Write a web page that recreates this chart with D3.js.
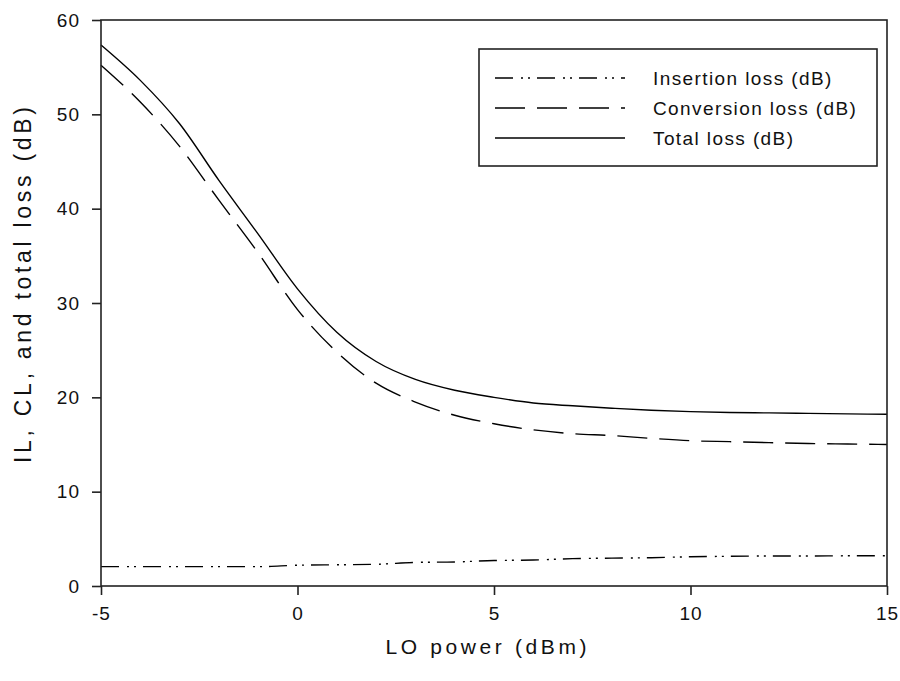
<!DOCTYPE html>
<html>
<head>
<meta charset="utf-8">
<script src="https://cdn.jsdelivr.net/npm/d3@7"></script>
<style>
  body { margin: 0; background: #fff; }
  text { font-family: "Liberation Sans", Arial, sans-serif; fill: #111; }
</style>
</head>
<body>
<svg id="chart" width="900" height="681"></svg>
<script>
// LO power sweep (dBm)
var loPower = [-5, -4, -3, -2, -1, 0, 1, 2, 3, 4, 5, 6, 7, 8, 9, 10, 11, 12, 13, 14, 15]
var insertionLoss = [2.05, 2.05, 2.05, 2.05, 2.05, 2.2, 2.25, 2.3, 2.5, 2.55, 2.7, 2.75, 2.9, 2.95, 3.0, 3.1, 3.15, 3.18, 3.18, 3.2, 3.2]
var conversionLoss = [55.2, 51.3, 46.6, 40.9, 35.3, 29.3, 24.8, 21.5, 19.5, 18.1, 17.2, 16.55, 16.15, 15.95, 15.65, 15.4, 15.3, 15.2, 15.1, 15.05, 15.0]
var totalLoss = [57.35, 53.6, 49.0, 43.0, 37.3, 31.5, 26.9, 23.8, 21.9, 20.75, 20.0, 19.4, 19.1, 18.85, 18.63, 18.48, 18.39, 18.35, 18.3, 18.25, 18.2]
var xTicks = [-5, 0, 5, 10, 15]
var yTicks = [0, 10, 20, 30, 40, 50, 60]
var seriesNames = ['Insertion loss (dB)', 'Conversion loss (dB)', 'Total loss (dB)']

var margin = { left: 101, top: 20, right: 13, bottom: 95 }
var width = 900, height = 681

var svg = d3.select('#chart')

var x = d3.scaleLinear().domain([-5, 15]).range([margin.left, width - margin.right])
var y = d3.scaleLinear().domain([0, 60]).range([height - margin.bottom, margin.top])

var dashes = ['18,8,2,5,2,7', '30,12', null]
var series = [insertionLoss, conversionLoss, totalLoss]

var line = d3.line()
  .x(function(d, i) { return x(loPower[i]) })
  .y(function(d) { return y(d) })
  .curve(d3.curveMonotoneX)

svg.selectAll('path.series')
  .data(series)
  .enter()
  .append('path')
  .attr('class', 'series')
  .attr('d', line)
  .attr('fill', 'none')
  .attr('stroke', '#000')
  .attr('stroke-width', 1.4)
  .attr('stroke-dasharray', function(d, i) { return dashes[i] })

// frame
svg.append('rect')
  .attr('x', x(-5))
  .attr('y', y(60))
  .attr('width', x(15) - x(-5))
  .attr('height', y(0) - y(60))
  .attr('fill', 'none')
  .attr('stroke', '#222')
  .attr('stroke-width', 1.6)

var fmt = function(d) { return String(d) }  // plain hyphen for negatives
var xAxis = svg.append('g')
  .attr('transform', 'translate(0,' + y(0) + ')')
  .call(d3.axisBottom(x).tickValues(xTicks).tickFormat(fmt).tickSize(9).tickSizeOuter(0).tickPadding(12))
var yAxis = svg.append('g')
  .attr('transform', 'translate(' + x(-5) + ',0)')
  .call(d3.axisLeft(y).tickValues(yTicks).tickFormat(fmt).tickSize(9).tickSizeOuter(0).tickPadding(12))

;[xAxis, yAxis].forEach(function(g) {
  g.select('.domain').remove()
  g.selectAll('line').attr('stroke', '#222').attr('stroke-width', 1.6)
  g.selectAll('text').style('font-size', '19px').style('letter-spacing', '1px').attr('fill', '#111')
})

svg.append('text')
  .attr('x', (x(-5) + x(15)) / 2 - 8)
  .attr('y', 654)
  .attr('text-anchor', 'middle')
  .attr('textLength', 201)
  .attr('lengthAdjust', 'spacing')
  .style('font-size', '21px')
  .text('LO power (dBm)')

svg.append('text')
  .attr('transform', 'translate(31,285) rotate(-90)')
  .attr('text-anchor', 'middle')
  .attr('textLength', 356)
  .attr('lengthAdjust', 'spacing')
  .style('font-size', '23px')
  .text('IL, CL, and total loss (dB)')

// legend
var legend = svg.append('g')
legend.append('rect')
  .attr('x', 479).attr('y', 49)
  .attr('width', 398).attr('height', 117)
  .attr('fill', '#fff')
  .attr('stroke', '#222')
  .attr('stroke-width', 1.6)

seriesNames.forEach(function(name, i) {
  var ly = 78 + i * 30
  legend.append('line')
    .attr('x1', 495).attr('x2', 625)
    .attr('y1', ly).attr('y2', ly)
    .attr('stroke', '#000')
    .attr('stroke-width', 1.4)
    .attr('stroke-dasharray', dashes[i])
  legend.append('text')
    .attr('x', 653)
    .attr('y', ly + 7)
    .style('font-size', '19px')
    .style('letter-spacing', '1.4px')
    .text(name)
})
</script>
</body>
</html>
